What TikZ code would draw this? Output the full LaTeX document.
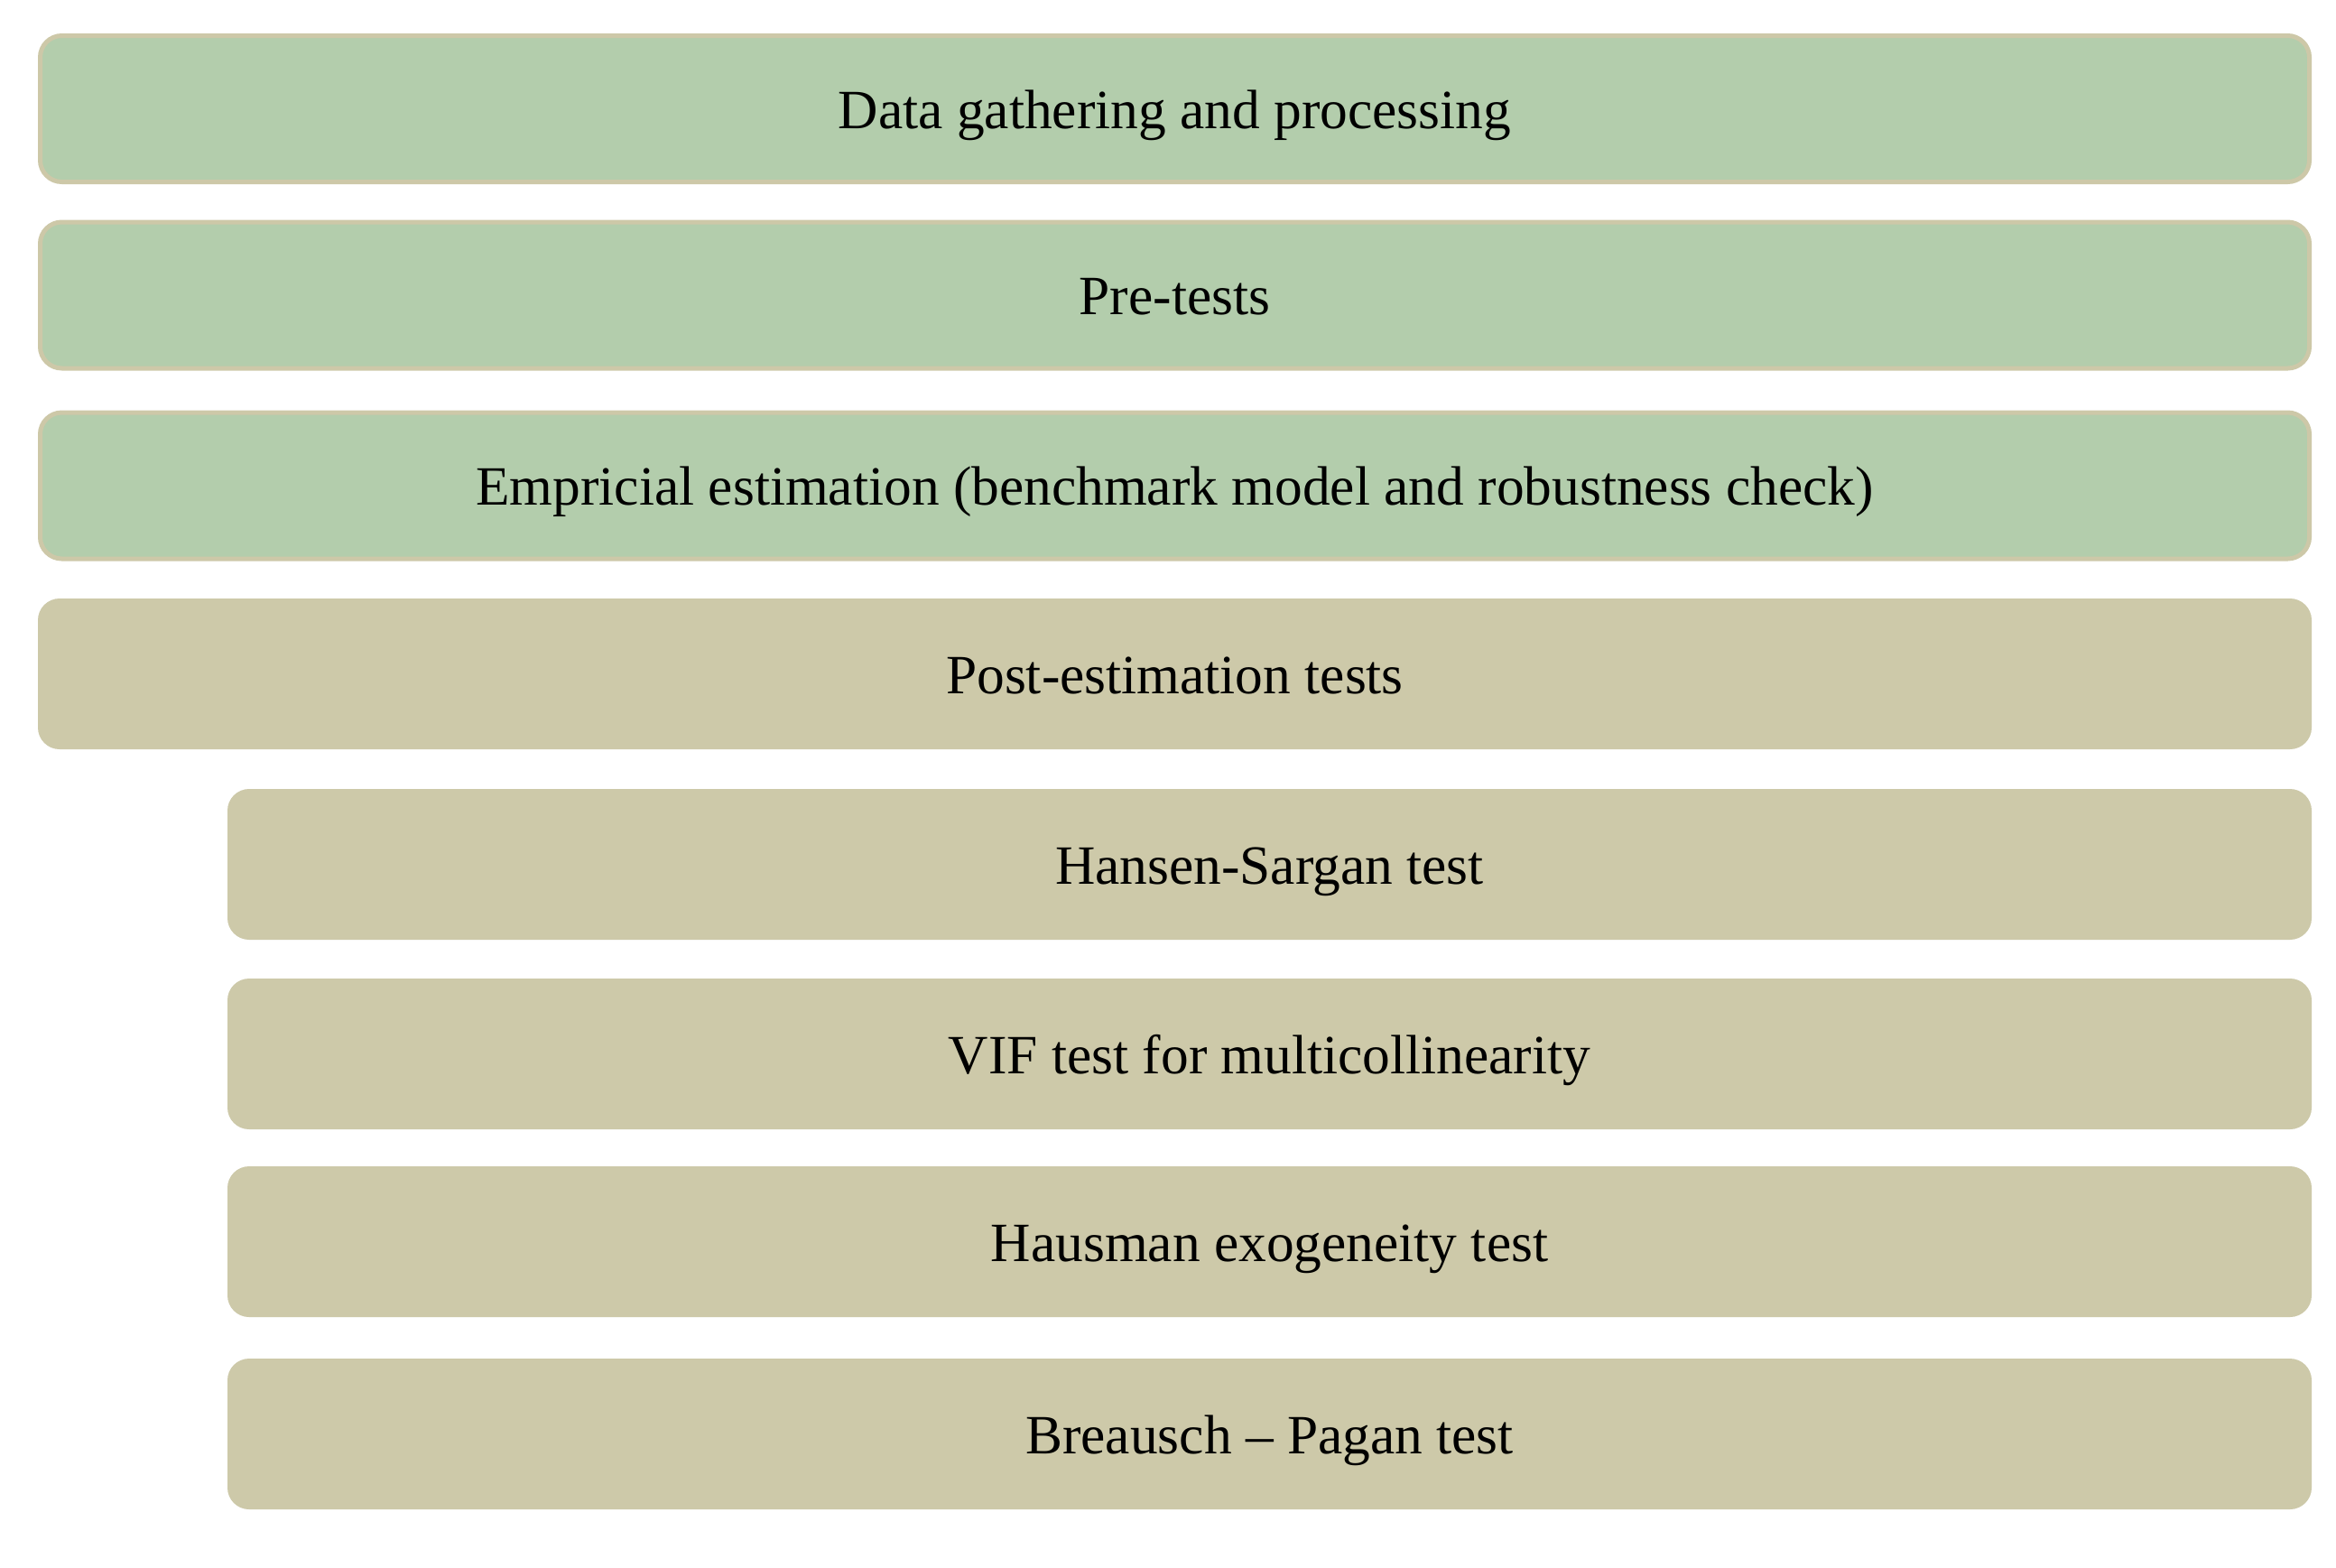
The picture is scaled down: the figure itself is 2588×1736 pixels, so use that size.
\documentclass[tikz,border=0pt]{standalone}
\usepackage{fontspec}
\setmainfont{Liberation Serif}
\definecolor{boxgreen}{HTML}{B3CDAC}
\definecolor{boxtan}{HTML}{CDC9A9}
\definecolor{boxedge}{HTML}{CDC8A8}
\tikzset{
  stage/.style={rectangle, rounded corners=6pt, inner sep=0pt, text=black,
    text height=14pt, text depth=3.2pt,
    font=\fontsize{15.35}{18}\selectfont},
  greenbox/.style={stage, fill=boxgreen, draw=boxedge, line width=1.25pt,
    minimum width=628.5pt, minimum height=40.5pt},
  tanbox/.style={stage, fill=boxtan, minimum width=629.75pt, minimum height=41.75pt},
  subbox/.style={stage, fill=boxtan, minimum width=577.25pt, minimum height=41.75pt}
}
\begin{document}
\begin{tikzpicture}[x=0.25pt,y=-0.25pt]
  \useasboundingbox[fill=white] (0,0) rectangle (2588,1736);
  \node[greenbox] (data) at (1301.5,120.5) {Data gathering and processing};
  \node[greenbox] (pre)  at (1301.5,327)   {Pre-tests};
  \node[greenbox] (emp)  at (1301.5,538)   {Empricial estimation (benchmark model and robustness check)};
  \node[tanbox]   (post) at (1301.5,746.5) {Post-estimation tests};
  \node[subbox]   (hans) at (1406.5,957.5)  {Hansen-Sargan test};
  \node[subbox]   (vif)  at (1406.5,1167.5) {VIF test for multicollinearity};
  \node[subbox]   (haus) at (1406.5,1375.5) {Hausman exogeneity test};
  \node[subbox]   (bp)   at (1406.5,1588.5) {Breausch -- Pagan test};
\end{tikzpicture}
\end{document}
